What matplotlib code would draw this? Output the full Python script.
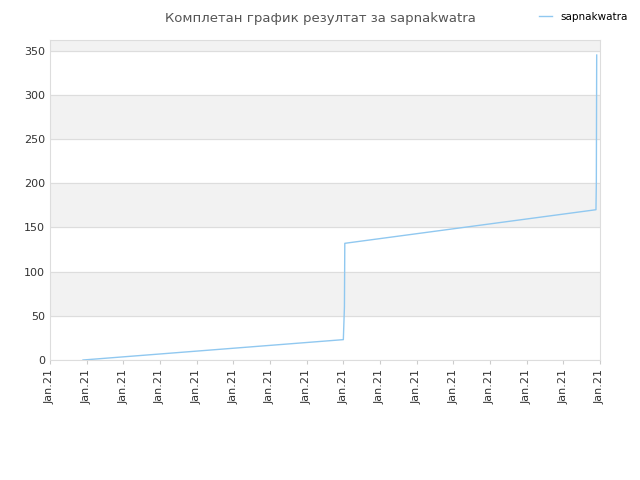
import matplotlib
matplotlib.use("Agg")
import matplotlib.pyplot as plt

# data (x in tick units, 0..15)
x_vals = [0.9, 7.99, 8.0, 8.03, 8.04, 14.89, 14.9, 14.91]
y_vals = [0, 23, 23, 60, 132, 170, 200, 345]
tick_labels = ["Jan.21"] * 16

fig = plt.figure(figsize=(6.4, 4.8), dpi=100)
ax = fig.add_axes([50 / 640, 1 - 360 / 480, 550 / 640, 320 / 480])

for lo in range(50, 400, 100):
    ax.axhspan(lo, lo + 50, color="#f2f2f2", zorder=0)
for y in range(0, 400, 50):
    ax.axhline(y, color="#dddddd", linewidth=0.8, zorder=1)

ax.plot(x_vals, y_vals, color="#90c8f0", linewidth=1.0, label="sapnakwatra", zorder=3)

ax.set_xlim(0, 15)
ax.set_ylim(0, 362)
ax.set_xticks(range(16))
ax.set_xticklabels(tick_labels, rotation=90, fontsize=8, color="#333333")
ax.set_yticks(range(0, 400, 50))
ax.tick_params(axis="y", labelsize=8, colors="#333333", length=0)
ax.tick_params(axis="x", length=3, color="#cccccc")
for s in ax.spines.values():
    s.set_color("#dddddd")

fig.text(0.5, 0.975, "Комплетан график резултат за sapnakwatra", ha="center", va="top",
         fontsize=9.5, color="#555555")
fig.legend(loc="upper right", bbox_to_anchor=(0.995, 0.995), frameon=False, fontsize=7.5,
           handlelength=1.2)

fig.savefig("out.png", dpi=100)
